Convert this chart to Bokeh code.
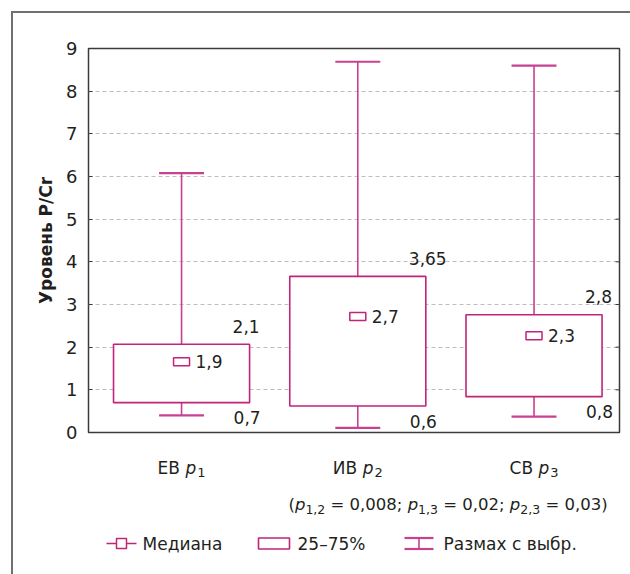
import numpy as np
from bokeh.plotting import figure
from bokeh.layouts import column
from bokeh.models import Range1d, FixedTicker, ColumnDataSource
from bokeh.embed import file_html
from bokeh.resources import INLINE
from bokeh.core.properties import value

# ---------------- data ----------------
categories = ["ЕВ", "ИВ", "СВ"]
group_index = ["1", "2", "3"]
q1 = [0.70, 0.62, 0.84]
q3 = [2.07, 3.66, 2.76]
median = [1.66, 2.72, 2.27]
whisker_low = [0.40, 0.11, 0.37]
whisker_high = [6.08, 8.69, 8.60]
median_labels = ["1,9", "2,7", "2,3"]
q3_labels = ["2,1", "3,65", "2,8"]
q1_labels = ["0,7", "0,6", "0,8"]
y_ticks = [0, 1, 2, 3, 4, 5, 6, 7, 8, 9]
grid_ticks = [1, 2, 3, 4, 5, 6, 7, 8]
pvalue_pairs = ["1,2", "1,3", "2,3"]
pvalues = ["0,008", "0,02", "0,03"]
legend_labels = ["Медиана", "25–75%", "Размах с выбр."]
y_label = "Уровень P/Cr"

# ---------------- style / layout ----------------
OFF = 13                       # outer frame offset (margin + border)
L, R, T, B = 88, 619, 48, 432  # inner plot frame in page pixels
SPLIT = 446                    # page row where the lower panel starts
W_IN = 630 - OFF
H_A = SPLIT - OFF
H_B = 574 - SPLIT
X0, X1 = 0.472, 3.485
SCALE = (R - L) / (X1 - X0)
FONT = "DejaVu Sans"
TXT = "#231f20"
BOXC = "#c0247b"
WHC = "#c8408f"
AXC = "#3a3a3a"
box_half = 0.386
cap_half = 0.1275

EM = {' ': 0.318, '(': 0.390, ')': 0.390, ',': 0.318, ';': 0.337, '=': 0.838,
      'p': 0.635, 'Е': 0.632, 'В': 0.686, 'И': 0.748, 'С': 0.698}
for d in "0123456789":
    EM[d] = 0.636


def tw(s, size):
    return sum(EM.get(c, 0.6) for c in s) * size


# ================= main chart =================
p = figure(width=W_IN, height=H_A, x_range=Range1d(X0, X1), y_range=Range1d(0, 9),
           output_backend="svg", toolbar_location=None, x_axis_location=None,
           min_border_left=L - OFF, min_border_right=630 - R, min_border_top=T - OFF,
           min_border_bottom=SPLIT - B, background_fill_color="white",
           border_fill_color="white")
p.outline_line_color = AXC
p.outline_line_width = 1.5

ax = p.yaxis[0]
ax.ticker = FixedTicker(ticks=y_ticks)
ax.axis_line_color = None
ax.major_tick_in = 4
ax.major_tick_out = 0
ax.major_tick_line_color = AXC
ax.minor_tick_line_color = None
ax.major_label_standoff = 11
ax.major_label_text_font = FONT
ax.major_label_text_font_size = "18px"
ax.major_label_text_color = TXT
ax.axis_label = y_label
ax.axis_label_text_font = FONT
ax.axis_label_text_font_size = "17px"
ax.axis_label_text_font_style = "bold"
ax.axis_label_text_color = TXT
ax.axis_label_standoff = 7

# inward ticks on the right side of the frame
p.ray(x=np.full(len(y_ticks), X1), y=y_ticks, length=4, length_units="screen",
      angle=np.pi, line_color=AXC, line_width=1)

p.xgrid.visible = False
p.ygrid.ticker = FixedTicker(ticks=grid_ticks)
p.ygrid.grid_line_color = "#bdbdbd"
p.ygrid.grid_line_dash = "4 3"
p.ygrid.grid_line_width = 1

x = np.arange(1, len(categories) + 1, dtype=float)
lo = np.array(whisker_low)
hi = np.array(whisker_high)
a1 = np.array(q1)
a3 = np.array(q3)

p.segment(x, a3, x, hi, line_color=WHC, line_width=1.6)
p.segment(x, lo, x, a1, line_color=WHC, line_width=1.6)
p.segment(x - cap_half, hi, x + cap_half, hi, line_color=WHC, line_width=2.2)
p.segment(x - cap_half, lo, x + cap_half, lo, line_color=WHC, line_width=2.2)
p.quad(left=x - box_half, right=x + box_half, bottom=a1, top=a3,
       fill_color="white", line_color=BOXC, line_width=1.6)
p.rect(x, median, width=16, height=8, width_units="screen", height_units="screen",
       fill_color="white", line_color=BOXC, line_width=1.5)

common = dict(text_font=value(FONT), text_font_size="17px", text_color=TXT,
              text_baseline="middle", text_align="left")
p.text(x=x + box_half, y=a3, text=q3_labels, x_offset=-17, y_offset=-18, **common)
p.text(x=x + box_half, y=a1, text=q1_labels, x_offset=-16, y_offset=15, **common)
p.text(x=x, y=median, text=median_labels, x_offset=14, y_offset=0, **common)

# ================= lower panel (labels, note, legend) =================
q = figure(width=W_IN, height=H_B, x_range=Range1d(X0, X1), y_range=Range1d(H_B, 0),
           output_backend="svg", toolbar_location=None, x_axis_location=None,
           y_axis_location=None, min_border_left=L - OFF, min_border_right=630 - R,
           min_border_top=0, min_border_bottom=0, background_fill_color="white",
           border_fill_color="white")
q.outline_line_color = None
q.xgrid.visible = False
q.ygrid.visible = False


def xd(cx):
    return X0 + (cx - L) / SCALE


def yd(cy):
    return cy - SPLIT


texts = {"x": [], "y": [], "text": [], "size": [], "style": [], "baseline": []}


def put(t, cx_data, cy, size=17.0, style="normal", baseline="alphabetic"):
    texts["x"].append(cx_data)
    texts["y"].append(yd(cy))
    texts["text"].append(t)
    texts["size"].append(f"{size}px")
    texts["style"].append(style)
    texts["baseline"].append(baseline)


# category labels "ЕВ p1"
for i, cat in enumerate(categories):
    total = tw(cat, 17) + tw(" ", 17) + tw("p", 17) + 1 + tw(group_index[i], 13)
    s = -total / 2
    put(cat, x[i] + s / SCALE, 467)
    s += tw(cat, 17) + tw(" ", 17)
    put("p", x[i] + s / SCALE, 467, style="italic")
    s += tw("p", 17) + 1
    put(group_index[i], x[i] + s / SCALE, 472, size=13)

# p-values line
FS, SS = 16.5, 12.5
s = 288
base, sub_base = 504, 508.5
put("(", xd(s), base, size=FS)
s += tw("(", FS)
for k, (pair, pv) in enumerate(zip(pvalue_pairs, pvalues)):
    put("p", xd(s), base, size=FS, style="italic")
    s += tw("p", FS)
    put(pair, xd(s), sub_base, size=SS)
    s += tw(pair, SS) + tw(" ", FS)
    tail = "= " + pv + (";" if k < len(pvalues) - 1 else ")")
    put(tail, xd(s), base, size=FS)
    s += tw(tail, FS) + tw(" ", FS)

# legend texts
ly = 543
put(legend_labels[0], xd(142), ly, baseline="middle")
put(legend_labels[1], xd(297), ly, baseline="middle")
put(legend_labels[2], xd(443), ly, baseline="middle")

src = ColumnDataSource(texts)
q.text(x="x", y="y", text="text", source=src, text_font=value(FONT),
       text_font_size="size", text_font_style="style", text_baseline="baseline",
       text_align="left", text_color=TXT)

# legend symbols
q.segment(x0=[xd(106)], y0=[yd(ly)], x1=[xd(136)], y1=[yd(ly)],
          line_color=BOXC, line_width=1.6)
q.rect(x=[xd(121)], y=[yd(ly)], width=10, height=10, width_units="screen",
       height_units="screen", fill_color="white", line_color=BOXC, line_width=1.5)
q.rect(x=[xd(273.5)], y=[yd(ly)], width=31, height=11, width_units="screen",
       height_units="screen", fill_color=None, line_color=BOXC, line_width=1.6)
q.segment(x0=[xd(404), xd(404)], y0=[yd(ly - 5.5), yd(ly + 5.5)],
          x1=[xd(433), xd(433)], y1=[yd(ly - 5.5), yd(ly + 5.5)],
          line_color=WHC, line_width=2.2)
q.segment(x0=[xd(418.5)], y0=[yd(ly - 5.5)], x1=[xd(418.5)], y1=[yd(ly + 5.5)],
          line_color=WHC, line_width=1.6)

layout = column(p, q, margin=(11, 0, 0, 11), spacing=0,
                styles={"border-left": "2px solid #707070",
                        "border-top": "2px solid #707070"})

open("out.html", "w").write(file_html(layout, INLINE))
